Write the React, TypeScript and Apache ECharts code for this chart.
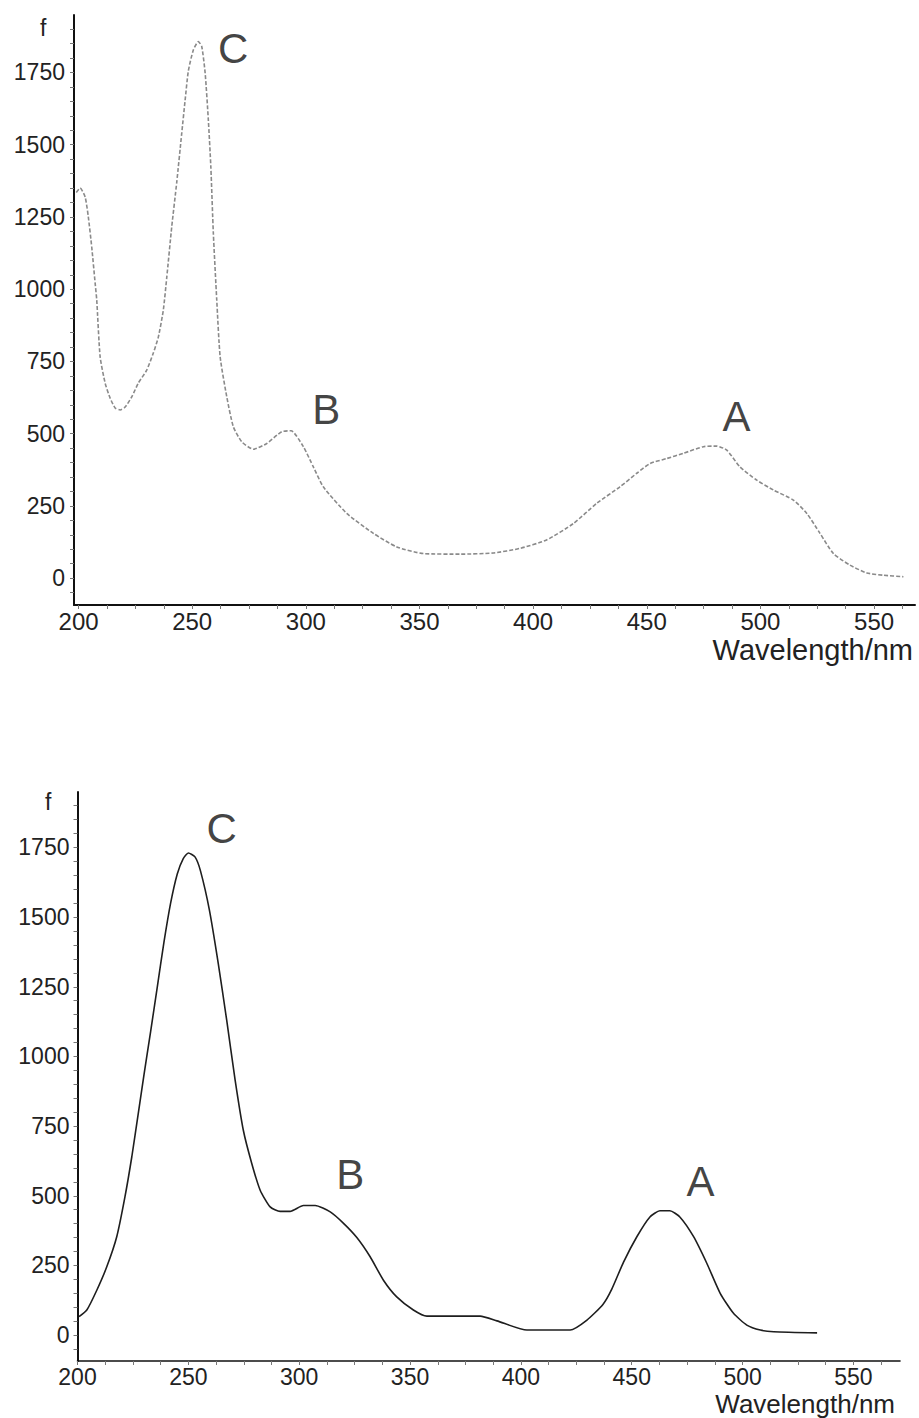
import React, { useEffect, useRef } from "react";
import * as echarts from "echarts";

// ---- data ----
const topSpectrum: number[][] = [
  [199, 1335], [200.7, 1350], [202.9, 1319], [204.3, 1250], [205.8, 1146], [207.3, 1021], [208, 963],
  [209.5, 766], [211.7, 675], [213.9, 623], [216.1, 589], [218.3, 582], [220.5, 592], [223.4, 627],
  [226.3, 675], [230, 720], [232.9, 779], [235.1, 834], [237.3, 928], [238.8, 1040], [241, 1216],
  [243.2, 1370], [245.4, 1540], [246.9, 1655], [248.3, 1755], [250.5, 1828], [252.7, 1857], [254.2, 1840],
  [255.7, 1748], [257.1, 1586], [258.2, 1424], [259.3, 1194], [260.8, 963], [262.3, 766], [265.2, 628],
  [268.1, 524], [271.8, 472], [276.9, 446], [282.8, 466], [289.4, 507], [293.5, 510], [298.9, 455],
  [303.3, 385], [307.7, 316], [318, 224], [329.7, 155], [340, 108], [351.7, 85], [367.8, 83],
  [382.5, 87], [394.2, 103], [405.9, 132], [417.7, 189], [428, 259], [438.2, 316], [445.6, 363],
  [451.5, 397], [458.8, 414], [466.1, 432], [474.9, 455], [480.8, 457], [485.2, 443], [491, 385],
  [498.4, 339], [505.7, 305], [514.5, 270], [520.4, 224], [526.2, 155], [532.1, 85], [539.4, 45],
  [546.8, 18], [554.1, 10], [562.9, 5],
];

const bottomSpectrum: number[][] = [
  [200.7, 66], [204.2, 90], [208.7, 161], [213.2, 245], [217.7, 353], [221.4, 496], [224.5, 640],
  [227.4, 795], [230, 935], [233, 1090], [236, 1250], [239, 1410], [242, 1550], [245, 1655],
  [247.7, 1710], [250, 1730], [253, 1716], [255.5, 1665], [259.5, 1525], [263.5, 1333],
  [267.3, 1130], [271.1, 915], [274.8, 735], [278.6, 616], [282.4, 520], [286.9, 460], [291.4, 444],
  [295.9, 444], [301.9, 465], [307.2, 465], [314, 442], [320, 401], [326, 350], [332, 281], [338, 197],
  [344, 137], [351.5, 90], [357.6, 68], [381.6, 68], [389.2, 51], [402.7, 18], [422.2, 18], [429.8, 54],
  [437, 110], [441, 165], [446.3, 262], [452.3, 353], [458.2, 424], [462.7, 446], [467.2, 446],
  [471.7, 424], [477.9, 353], [483.9, 257], [489.9, 150], [495.9, 78], [501.9, 36], [508, 18],
  [514, 12], [533.6, 8],
];

const topPeakLabels: (number | string)[][] = [
  [268, 1832, "C"], [309, 585, "B"], [489.5, 561, "A"],
];
const bottomPeakLabels: (number | string)[][] = [
  [265, 1819, "C"], [323, 577, "B"], [481, 552, "A"],
];

const xTickLabels = [200, 250, 300, 350, 400, 450, 500, 550];
const yTickLabels = [0, 250, 500, 750, 1000, 1250, 1500, 1750];
const xMinorTicks = Array.from({ length: 30 }, (_, i) => 200 + i * 12.5);
const yMinorTicks = Array.from({ length: 40 }, (_, i) => -50 + i * 50);

const FONT = "Liberation Sans, Arial, sans-serif";

export default function App() {
  const ref = useRef<HTMLDivElement>(null);

  useEffect(() => {
    if (!ref.current) return;
    const chart = echarts.init(ref.current, undefined, { renderer: "svg" });

    const xAxisBase = (gridIndex: number, min: number, max: number, fs: number, margin: number, lw: number) => ({
      type: "value",
      gridIndex,
      min,
      max,
      splitLine: { show: false },
      axisLine: { show: true, onZero: false, lineStyle: { color: "#111", width: lw } },
      axisTick: {
        show: true,
        customValues: xMinorTicks.filter((v) => v >= min && v <= max),
        length: 4,
        lineStyle: { color: "#777", width: 1 },
      },
      axisLabel: {
        show: true,
        customValues: xTickLabels,
        formatter: (v: number) => String(v),
        fontSize: fs,
        color: "#222",
        fontFamily: FONT,
        margin,
      },
    });

    const yAxisBase = (gridIndex: number, lw: number, margin: number) => ({
      type: "value",
      gridIndex,
      min: -93,
      max: 1949,
      splitLine: { show: false },
      axisLine: { show: true, onZero: false, lineStyle: { color: "#111", width: lw } },
      axisTick: {
        show: true,
        customValues: yMinorTicks,
        length: 4,
        lineStyle: { color: "#777", width: 1 },
      },
      axisLabel: {
        show: true,
        customValues: yTickLabels,
        formatter: (v: number) => String(v),
        fontSize: 23,
        color: "#222",
        fontFamily: FONT,
        margin,
      },
    });

    const peakLabelSeries = (idx: number, data: (number | string)[][]) => ({
      type: "scatter",
      xAxisIndex: idx,
      yAxisIndex: idx,
      symbolSize: 0,
      silent: true,
      data,
      label: {
        show: true,
        position: "inside",
        formatter: (p: any) => p.value[2],
        fontSize: 42,
        color: "#111",
        fontFamily: FONT,
      },
    });

    chart.setOption({
      animation: false,
      backgroundColor: "#ffffff",
      grid: [
        { left: 74, top: 15, width: 841, height: 590 },
        { left: 77.5, top: 792, width: 822.5, height: 569 },
      ],
      xAxis: [xAxisBase(0, 198, 568, 24, 4, 2), xAxisBase(1, 200, 571, 23, 4, 1.6)],
      yAxis: [yAxisBase(0, 2, 9), yAxisBase(1, 2, 8)],
      series: [
        {
          type: "line",
          xAxisIndex: 0,
          yAxisIndex: 0,
          data: topSpectrum,
          showSymbol: false,
          smooth: 0.2,
          lineStyle: { color: "#8a8a8a", width: 1.6, type: [4, 2] },
        },
        {
          type: "line",
          xAxisIndex: 1,
          yAxisIndex: 1,
          data: bottomSpectrum,
          showSymbol: false,
          smooth: 0.2,
          lineStyle: { color: "#1e1e1e", width: 1.6 },
        },
        peakLabelSeries(0, topPeakLabels),
        peakLabelSeries(1, bottomPeakLabels),
      ],
      graphic: [
        {
          type: "text",
          left: 40,
          top: 16,
          style: { text: "f", fill: "#222", font: `23px ${FONT}` },
        },
        {
          type: "text",
          left: 45,
          top: 790,
          style: { text: "f", fill: "#222", font: `23px ${FONT}` },
        },
        {
          type: "text",
          right: 6,
          top: 635,
          style: { text: "Wavelength/nm", fill: "#222", font: `29px ${FONT}` },
        },
        {
          type: "text",
          right: 24,
          top: 1391,
          style: { text: "Wavelength/nm", fill: "#222", font: `26px ${FONT}` },
        },
      ],
    });

    return () => chart.dispose();
  }, []);

  return (
    <div
      ref={ref}
      style={{ position: "absolute", left: 0, top: 0, width: 919, height: 1418 }}
    />
  );
}
